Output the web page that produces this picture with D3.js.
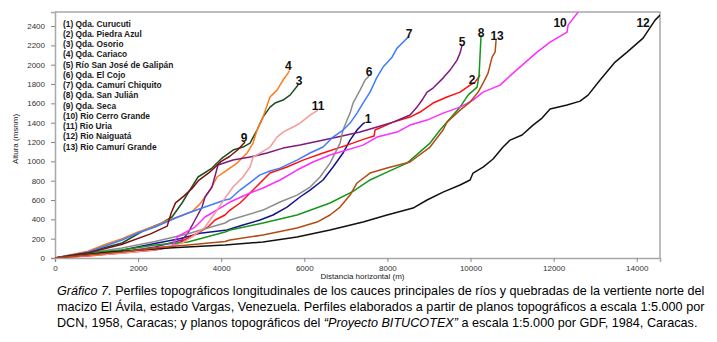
<!DOCTYPE html>
<html>
<head>
<meta charset="utf-8">
<script src="https://cdn.jsdelivr.net/npm/d3@7"></script>
<style>
  body { margin: 0; background: #fff; }
  text { font-family: "Liberation Sans", Arial, sans-serif; }
</style>
</head>
<body>
<svg id="chart" width="717" height="342"></svg>
<script>
// nombres de los cauces (leyenda)
const nombres = [
  "(1) Qda. Curucuti", "(2) Qda. Piedra Azul", "(3) Qda. Osorio", "(4) Qda. Cariaco",
  "(5) Río San José de Galipán", "(6) Qda. El Cojo", "(7) Qda. Camurí Chiquito",
  "(8) Qda. San Julián", "(9) Qda. Seca", "(10) Rio Cerro Grande", "(11) Rio Uria",
  "(12) Rio Naiguatá", "(13) Rio Camurí Grande"
]
const etiquetas = ["1","2","3","4","5","6","7","8","9","10","11","12","13"]

// perfiles: [distancia horizontal (m), altura (msnm)]
const perfil1 = [[0,0],[800,40],[1600,80],[2400,150],[3000,200],[3490,255],[4140,290],[4525,341],[4934,393],[5247,445],[5584,527],[5897,631],[6138,703],[6451,807],[6691,941],[6932,1086],[7101,1220],[7269,1324],[7414,1390],[7462,1400]]
const perfil2 = [[0,0],[794,21],[1613,52],[2407,83],[2816,114],[3201,207],[3442,259],[3683,321],[3851,393],[4092,445],[4212,496],[4453,569],[4694,672],[4934,776],[5175,879],[5584,941],[5969,1013],[6451,1086],[7028,1168],[7510,1240],[7678,1262],[7702,1324],[8136,1406],[8545,1458],[8786,1510],[9098,1603],[9435,1665],[9748,1716],[9989,1789],[10110,1820],[10230,1892]]
const perfil3 = [[0,0],[794,62],[1613,155],[2166,290],[2575,362],[2816,424],[3057,569],[3201,672],[3442,838],[3779,931],[4020,1034],[4284,1117],[4525,1148],[4694,1189],[4862,1324],[5006,1458],[5175,1561],[5295,1603],[5488,1634],[5656,1685],[5850,1790]]
const perfil4 = [[0,0],[794,70],[1204,140],[1613,200],[1998,270],[2407,330],[2720,390],[3057,440],[3300,480],[3490,560],[3730,703],[3900,838],[4140,910],[4380,982],[4622,1086],[4766,1189],[4862,1324],[5006,1458],[5175,1665],[5343,1737],[5488,1841],[5608,1913],[5640,1940]]
const perfil5 = [[0,0],[794,31],[1613,62],[2407,114],[3057,186],[3201,259],[3370,393],[3538,527],[3611,631],[3779,734],[3923,962],[4284,1013],[4694,1044],[5103,1086],[5488,1137],[5897,1168],[6691,1241],[7341,1303],[7751,1355],[8136,1406],[8376,1448],[8545,1479],[8713,1561],[8834,1634],[8954,1716],[9098,1758],[9339,1861],[9508,1944],[9676,2047],[9748,2120],[9797,2202]]
const perfil6 = [[0,0],[794,52],[1613,103],[2407,170],[3201,250],[4092,362],[4212,393],[5006,496],[5416,579],[5825,651],[6138,734],[6379,838],[6619,982],[6860,1189],[6932,1324],[7028,1427],[7101,1499],[7173,1603],[7341,1737],[7462,1841],[7558,1882]]
const perfil7 = [[0,0],[794,62],[1613,186],[1998,259],[2407,321],[2961,424],[3201,465],[3611,527],[4092,600],[4212,610],[4453,703],[4694,780],[4934,860],[5175,900],[5416,930],[5825,1013],[6138,1086],[6451,1148],[6691,1251],[6932,1324],[7101,1396],[7269,1499],[7414,1603],[7582,1716],[7751,1872],[7895,1975],[8112,2078],[8232,2171],[8376,2233],[8497,2285]]
const perfil8 = [[0,0],[794,52],[1613,83],[2407,134],[3201,165],[4092,269],[4212,290],[5006,362],[5825,445],[6619,569],[7173,690],[7582,807],[7991,889],[8472,982],[9026,1189],[9267,1324],[9748,1561],[9941,1685],[10158,1768],[10206,1892],[10254,2306]]
const perfil9 = [[0,0],[800,55],[1600,140],[2300,250],[2700,330],[2800,470],[2900,570],[3100,640],[3300,720],[3450,800],[3700,880],[4000,1000],[4200,1050],[4400,1120],[4573,1200]]
const perfil10 = [[0,0],[794,31],[1613,62],[2407,103],[2816,124],[2937,217],[3370,320],[3611,424],[4092,548],[4212,579],[4694,672],[5006,724],[5416,807],[5825,910],[6210,993],[6619,1065],[7414,1168],[7751,1251],[8232,1303],[8545,1375],[8954,1427],[9339,1499],[9748,1561],[10061,1634],[10302,1716],[10711,1789],[11024,1913],[11601,2130],[11915,2233],[12324,2337],[12348,2409],[12589,2544],[12700,2620]]
const perfil11 = [[0,0],[800,25],[1600,50],[2400,85],[2800,120],[3057,155],[3370,238],[3611,321],[3851,465],[4092,620],[4284,734],[4525,838],[4694,941],[4766,1044],[4934,1086],[5175,1148],[5343,1251],[5488,1303],[5729,1355],[5897,1396],[6138,1479],[6330,1530]]
const perfil12 = [[0,0],[1372,62],[2720,103],[4092,134],[5006,165],[5825,217],[6619,290],[7414,372],[7991,445],[8617,517],[8954,600],[9339,682],[9748,755],[9989,807],[10061,879],[10302,941],[10543,1024],[10783,1148],[10952,1220],[11241,1272],[11505,1375],[11722,1448],[11915,1541],[12324,1582],[12637,1623],[12829,1685],[13118,1841],[13479,2027],[13768,2130],[14153,2275],[14442,2461],[14562,2513]]
const perfil13 = [[0,0],[794,31],[1613,62],[2407,103],[3201,134],[4092,170],[4212,186],[5006,238],[5825,310],[6306,372],[6619,445],[6860,527],[7101,651],[7269,776],[7582,879],[7991,931],[8545,993],[9026,1148],[9339,1324],[9435,1406],[9748,1530],[9989,1613],[10182,1716],[10302,1810],[10422,1913],[10518,2078],[10591,2130],[10615,2254]]

const perfiles = [perfil1, perfil2, perfil3, perfil4, perfil5, perfil6, perfil7,
                  perfil8, perfil9, perfil10, perfil11, perfil12, perfil13]

const xTicks = [0, 2000, 4000, 6000, 8000, 10000, 12000, 14000]
const yTicks = [0, 200, 400, 600, 800, 1000, 1200, 1400, 1600, 1800, 2000, 2200, 2400]

const colores = ["#14148c", "#ff1010", "#1d4f1d", "#ff7a1a", "#7d1a80", "#8c8c8c", "#3d7bff",
                 "#16961c", "#7a1212", "#ff2cff", "#f59b98", "#111111", "#b24c14"]

// desplazamiento de los numeros respecto al final de cada linea
const etiquetaDesp = [[3,0],[-8,9],[1,0],[-1,0],[0,1],[0,0],[1,1],[0,2],[-1,0],[-18,15],[0,0],[-17,12],[1,0]]

const svg = d3.select("#chart")
const margin = {top: 12, right: 57, bottom: 84, left: 55}
const width = 717 - margin.left - margin.right
const height = 342 - margin.top - margin.bottom

const x = d3.scaleLinear().domain([0, 14560]).range([0, width])
const y = d3.scaleLinear().domain([0, 2545]).range([height, 0])

const g = svg.append("g").attr("transform", `translate(${margin.left},${margin.top})`)

g.append("clipPath").attr("id", "clip")
  .append("rect").attr("width", width).attr("height", height)

// ejes
const xAxis = g.append("g")
  .attr("transform", `translate(0,${height})`)
  .call(d3.axisBottom(x).tickValues(xTicks).tickSize(4).tickPadding(3).tickFormat(d3.format("d")))
const yAxis = g.append("g")
  .call(d3.axisLeft(y).tickValues(yTicks).tickSize(4).tickPadding(6).tickFormat(d3.format("d")))

;[xAxis, yAxis].forEach(a => {
  a.selectAll("path").attr("stroke", "#a8a8a8").attr("stroke-width", 1.5)
  a.selectAll("line").attr("stroke", "#888")
  a.selectAll("text").attr("font-size", "8px").attr("fill", "#333")
})

// borde del area de grafico
g.append("path")
  .attr("d", `M0,0H${width}V${height}`)
  .attr("fill", "none").attr("stroke", "#a8a8a8").attr("stroke-width", 1.5)

svg.append("text")
  .attr("transform", `translate(18,${margin.top + height / 2 + 4}) rotate(-90)`)
  .attr("text-anchor", "middle").attr("font-size", "8px").attr("fill", "#222")
  .text("Altura (msnm)")

svg.append("text")
  .attr("x", margin.left + width / 2 + 5).attr("y", 279)
  .attr("text-anchor", "middle").attr("font-size", "8px").attr("fill", "#222")
  .text("Distancia horizontal (m)")

// lineas
const line = d3.line().x(d => x(d[0])).y(d => y(d[1]))

g.append("g").attr("clip-path", "url(#clip)")
  .selectAll("path")
  .data(perfiles)
  .enter()
  .append("path")
  .attr("d", line)
  .attr("fill", "none")
  .attr("stroke", (d, i) => colores[i])
  .attr("stroke-width", 1.5)
  .attr("stroke-linejoin", "round")

// numeros al final de cada perfil
const ultimo = d => d.filter(v => v[1] <= 2545).pop()
g.selectAll(".num")
  .data(perfiles)
  .enter()
  .append("text")
  .attr("class", "num")
  .attr("x", (d, i) => x(ultimo(d)[0]) + etiquetaDesp[i][0])
  .attr("y", (d, i) => y(ultimo(d)[1]) + etiquetaDesp[i][1])
  .attr("text-anchor", "middle")
  .attr("font-size", "12px").attr("font-weight", "bold").attr("fill", "#111")
  .text((d, i) => etiquetas[i])

// leyenda
g.selectAll(".ley")
  .data(nombres)
  .enter()
  .append("text")
  .attr("class", "ley")
  .attr("x", 8)
  .attr("y", (d, i) => 14.5 + i * 10.25)
  .attr("font-size", "8.4px").attr("font-weight", "bold").attr("fill", "#1a1a1a")
  .text(d => d)

// pie del grafico: texto estrechado con scale para simular fuente condensada
const pie = svg.append("g").attr("font-size", "13px").attr("fill", "#000")

function renglon(yy, ancho, partes) {
  const grp = pie.append("g")
  const t = grp.append("text").attr("x", 0).attr("y", 0)
  partes.forEach(p => t.append("tspan").attr("font-style", p[1] ? "italic" : null).text(p[0]))
  const w = t.node().getComputedTextLength()
  grp.attr("transform", `translate(57,${yy}) scale(${ancho / w},1)`)
}

renglon(295, 648, [["Gráfico 7.", true], [" Perfiles topográficos longitudinales de los cauces principales de ríos y quebradas de la vertiente norte del", false]])
renglon(311, 648, [["macizo El Ávila, estado Vargas, Venezuela. Perfiles elaborados a partir de planos topográficos a escala 1:5.000 por", false]])
renglon(327, 641, [["DCN, 1958, Caracas; y planos topográficos del ", false], ["“Proyecto BITUCOTEX”", true], [" a escala 1:5.000 por GDF, 1984, Caracas.", false]])
</script>
</body>
</html>
